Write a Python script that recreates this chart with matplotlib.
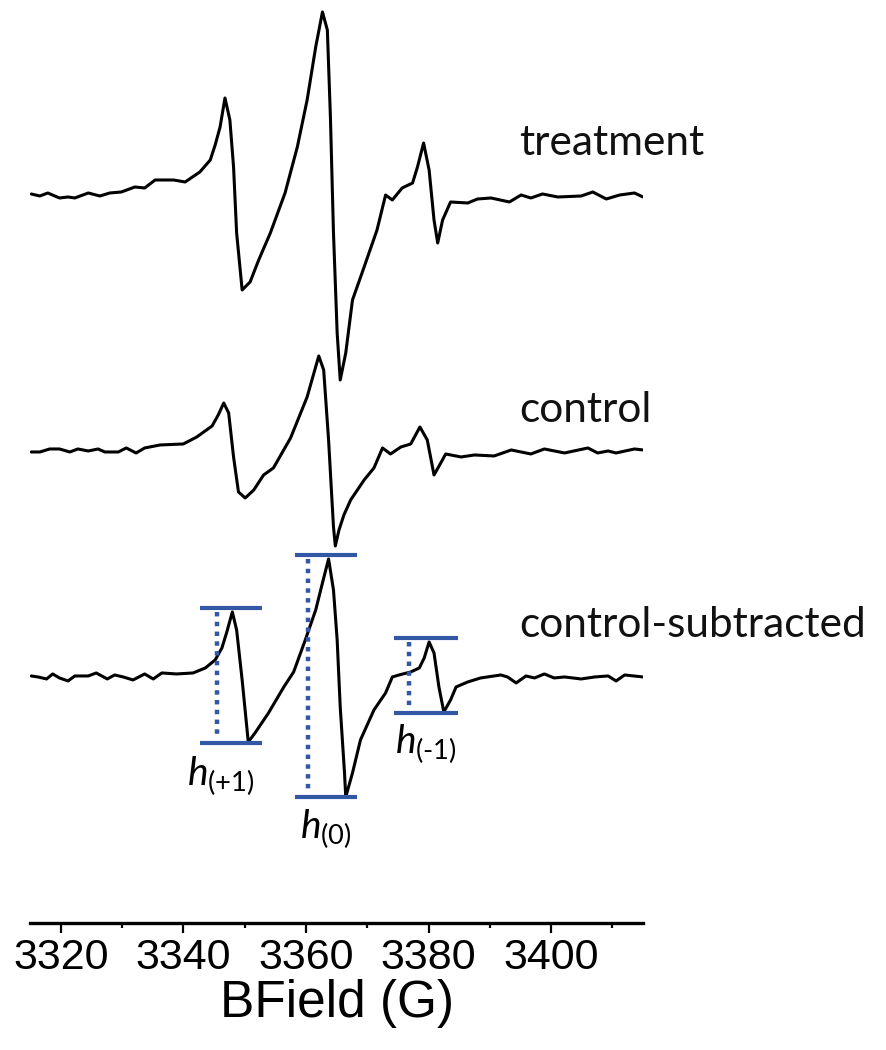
import numpy as np
import matplotlib.pyplot as plt

plt.rcParams['font.family'] = ['Liberation Sans', 'DejaVu Sans']
plt.rcParams['mathtext.fontset'] = 'custom'
plt.rcParams['mathtext.it'] = 'Lato:italic'
plt.rcParams['mathtext.rm'] = 'Lato'

# treatment spectrum: field (G) and signal (a.u.)
treat_b = [3315.2, 3316.6, 3317.9, 3319.8, 3321.2, 3322.3, 3324.5, 3326.4, 3328.0, 3329.9,
           3332.1, 3333.7, 3335.4, 3338.4, 3340.3, 3342.7, 3344.4, 3345.2, 3346.0, 3346.8,
           3347.6, 3348.2, 3348.7, 3349.6, 3350.9, 3352.3, 3354.2, 3356.6, 3358.6, 3360.2,
           3361.6, 3362.7, 3363.5, 3364.0, 3364.5, 3365.1, 3365.6, 3366.5, 3367.6, 3369.5,
           3371.6, 3373.0, 3374.1, 3375.7, 3377.4, 3378.2, 3379.2, 3380.1, 3380.9, 3381.5,
           3382.3, 3383.6, 3386.4, 3388.0, 3390.2, 3393.2, 3395.1, 3396.7, 3398.6, 3401.1,
           3404.9, 3406.8, 3409.0, 3411.2, 3413.6, 3415.0]
treat_i = [-1, -3, 0, -5, -4, -5, 0, -3, 0, 1,
           6, 5, 13, 13, 11, 21, 33, 48, 66, 95,
           73, 26, -40, -97, -89, -67, -40, 0, 46, 93,
           146, 181, 163, 76, -40, -140, -187, -160, -107, -74,
           -37, -2, -7, 5, 10, 26, 50, 23, -27, -50,
           -27, -9, -10, -6, -5, -9, -2, -5, -1, -4,
           -3, 1, -6, -2, 0, -4]

# control spectrum
ctrl_b = [3315.2, 3316.6, 3318.2, 3319.8, 3321.5, 3322.8, 3324.5, 3326.1, 3327.2, 3329.4,
          3330.7, 3332.3, 3333.7, 3336.2, 3340.0, 3342.2, 3344.7, 3345.7, 3346.6, 3347.4,
          3348.2, 3349.0, 3350.1, 3351.5, 3353.1, 3354.7, 3357.5, 3360.2, 3362.1, 3362.9,
          3363.7, 3364.5, 3364.8, 3365.4, 3366.2, 3367.3, 3369.5, 3371.1, 3372.5, 3373.8,
          3375.5, 3377.1, 3378.6, 3379.8, 3380.9, 3382.0, 3382.8, 3385.3, 3387.5, 3390.7,
          3393.5, 3396.7, 3398.9, 3402.2, 3406.0, 3407.6, 3409.3, 3410.6, 3413.6, 3415.0]
ctrl_i = [-2, -2, 1, 1, -2, 1, -1, 1, -2, -2,
          2, -3, 2, 5, 6, 13, 24, 35, 47, 37,
          -7, -42, -48, -40, -25, -18, 12, 53, 94, 80,
          10, -77, -96, -80, -65, -50, -30, -18, 2, -4,
          3, 6, 23, 10, -25, -13, -4, -7, -5, -6,
          0, -4, 1, -3, 2, -3, -1, -3, 1, 0]

# control-subtracted spectrum
sub_b = [3315.2, 3316.3, 3317.7, 3318.7, 3319.8, 3321.2, 3322.3, 3324.5, 3325.8, 3327.6,
         3328.8, 3330.2, 3331.8, 3333.7, 3335.1, 3336.5, 3338.9, 3341.6, 3343.6, 3345.2,
         3346.3, 3347.1, 3348.0, 3348.7, 3349.6, 3350.6, 3351.7, 3353.9, 3356.4, 3358.0,
         3359.9, 3361.6, 3362.7, 3363.7, 3364.5, 3365.1, 3365.6, 3366.3, 3366.5, 3367.6,
         3368.9, 3371.1, 3373.0, 3374.1, 3375.2, 3377.1, 3378.5, 3379.3, 3380.1, 3380.9,
         3381.7, 3382.5, 3383.6, 3384.5, 3386.4, 3388.5, 3391.8, 3392.9, 3394.3, 3395.9,
         3397.3, 3398.9, 3400.5, 3402.2, 3404.9, 3407.1, 3409.3, 3410.6, 3412.0, 3415.0]
sub_i = [1, 0, -2, 3, -1, -4, 1, 1, 4, -2,
         2, 0, -3, 3, -2, 4, 3, 4, 9, 17,
         29, 45, 65, 47, -3, -65, -56, -36, -10, 5,
         37, 67, 94, 118, 87, 37, -30, -96, -120, -96,
         -63, -33, -16, 0, 2, 5, 9, 19, 35, 24,
         -10, -35, -23, -10, -5, -1, 2, 0, -6, 1,
         -1, 3, -1, 0, -2, 0, 1, -4, 2, 0]

names = ['treatment', 'control', 'control-subtracted']
offsets = [730, 473, 246]

# peak-to-peak markers on the subtracted trace
h_labels = [r'$h_{\text{(+1)}}$', r'$h_{\text{(0)}}$', r'$h_{\text{(-1)}}$']
h_left = [3342.7, 3358.3, 3374.3]
h_right = [3352.9, 3368.4, 3384.8]
h_top = [69, 122, 39]
h_bot = [-66, -120, -36]
h_dot = [3345.5, 3360.4, 3376.9]
h_text_xy = [(3340.6, 138), (3359.0, 85), (3374.5, 170)]

blue = '#3157a5'

fig = plt.figure(figsize=(8.86, 10.5), dpi=100)
ax = fig.add_axes([0.0339, 0.121, 0.6919, 0.879])

traces = [(treat_b, treat_i), (ctrl_b, ctrl_i), (sub_b, sub_i)]
for (b, s), off in zip(traces, offsets):
    ax.plot(b, np.array(s) + off, color='black', lw=2.2,
            solid_joinstyle='round', solid_capstyle='round')

name_y = [768, 501, 286]
for n, y in zip(names, name_y):
    ax.text(3394.8, y, n, fontsize=30.5, family='Lato', color='#111111',
            va='baseline', ha='left', clip_on=False)

off = offsets[2]
for i in range(3):
    ax.plot([h_left[i], h_right[i]], [h_top[i] + off] * 2, color=blue, lw=3.0, solid_capstyle='butt')
    ax.plot([h_left[i], h_right[i]], [h_bot[i] + off] * 2, color=blue, lw=3.0, solid_capstyle='butt')
    ax.plot([h_dot[i], h_dot[i]], [h_top[i] + off - 4, h_bot[i] + off + 4], color=blue, lw=3.2,
            linestyle=(0, (1, 1.2)))
    tx, ty = h_text_xy[i]
    ax.text(tx, ty, h_labels[i], fontsize=28, va='baseline', ha='left')

ax.set_xlim(3315, 3415)
ax.set_ylim(0, 923)
ax.set_xticks([3320, 3340, 3360, 3380, 3400])
ax.set_xticks([3330, 3350, 3370, 3390, 3410], minor=True)
ax.set_yticks([])
for side in ['left', 'right', 'top']:
    ax.spines[side].set_visible(False)
ax.spines['bottom'].set_linewidth(2.4)
ax.tick_params(axis='x', which='major', length=7, width=1.6, labelsize=31, pad=3.5)
ax.tick_params(axis='x', which='minor', length=3.5, width=1.6)
ax.set_xlabel('BField (G)', fontsize=37, labelpad=1)

fig.savefig('out.png', dpi=100)
